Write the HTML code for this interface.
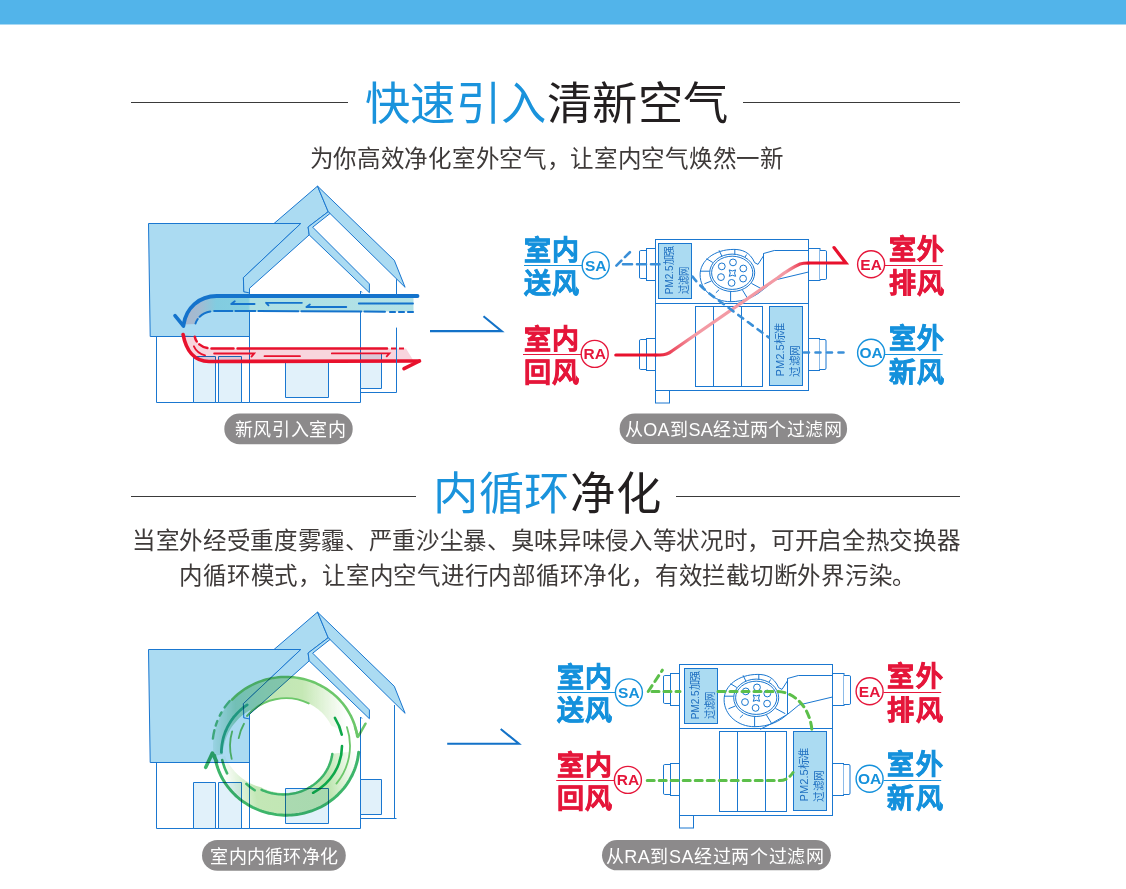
<!DOCTYPE html>
<html lang="zh-CN">
<head>
<meta charset="utf-8">
<style>
html,body{margin:0;padding:0;background:#fff;width:1126px;height:889px;overflow:hidden}
svg{display:block;font-family:"Liberation Sans",sans-serif}
</style>
</head>
<body>
<svg width="1126" height="889" viewBox="0 0 1126 889">
<defs>
<linearGradient id="gBlueDuct" x1="0" y1="0" x2="1" y2="0">
  <stop offset="0" stop-color="#a9b6cc"/>
  <stop offset="0.07" stop-color="#a2bcd2"/>
  <stop offset="0.14" stop-color="#82cce0"/>
  <stop offset="0.28" stop-color="#84cfe1"/>
  <stop offset="0.29" stop-color="#ade0e4"/>
  <stop offset="1" stop-color="#b3e2e6"/>
</linearGradient>
<linearGradient id="gUp" gradientUnits="userSpaceOnUse" x1="212" y1="0" x2="358" y2="0">
  <stop offset="0" stop-color="#a6dcc6" stop-opacity="0.25"/>
  <stop offset="0.16" stop-color="#aadfc0"/>
  <stop offset="0.4" stop-color="#bfe5b4"/>
  <stop offset="0.62" stop-color="#c5e8b5"/>
  <stop offset="0.92" stop-color="#c8e9b8" stop-opacity="0"/>
</linearGradient>
<linearGradient id="gLo" gradientUnits="userSpaceOnUse" x1="222" y1="770" x2="360" y2="752">
  <stop offset="0" stop-color="#c3e7b6" stop-opacity="0"/>
  <stop offset="0.22" stop-color="#c3e7b6"/>
  <stop offset="0.75" stop-color="#bfe6b2"/>
  <stop offset="0.97" stop-color="#c8e9b8" stop-opacity="0"/>
</linearGradient>
<linearGradient id="gRedLine" x1="0" y1="0" x2="1" y2="0">
  <stop offset="0" stop-color="#e8112d"/>
  <stop offset="0.25" stop-color="#f39aa4"/>
  <stop offset="0.85" stop-color="#f39aa4"/>
  <stop offset="1" stop-color="#e8112d"/>
</linearGradient>
</defs>
<!-- top bar -->
<rect x="0" y="0" width="1126" height="24.5" fill="#52b4ea"/>

<!-- ===== Heading 1 ===== -->
<line x1="131" y1="102.5" x2="348" y2="102.5" stroke="#3a3a3a" stroke-width="1.1"/>
<line x1="743" y1="102.5" x2="960" y2="102.5" stroke="#3a3a3a" stroke-width="1.1"/>
<text x="365" y="120.4" font-size="45.3" textLength="363" lengthAdjust="spacing" fill="#1a93dc">快速引入<tspan fill="#231f20">清新空气</tspan></text>
<text x="309.7" y="166.7" font-size="23.5" letter-spacing="0.7" fill="#3e3a39">为你高效净化室外空气，让室内空气焕然一新</text>

<!-- ===== Heading 2 ===== -->
<line x1="131" y1="496.5" x2="416" y2="496.5" stroke="#3a3a3a" stroke-width="1.1"/>
<line x1="676" y1="496.5" x2="960" y2="496.5" stroke="#3a3a3a" stroke-width="1.1"/>
<text x="433" y="510" font-size="45.3" textLength="227.6" lengthAdjust="spacing" fill="#1a93dc">内循环<tspan fill="#231f20">净化</tspan></text>
<text x="131.9" y="548.6" font-size="23.5" letter-spacing="0.67" fill="#3e3a39">当室外经受重度雾霾、严重沙尘暴、臭味异味侵入等状况时，可开启全热交换器</text>
<text x="179.4" y="584" font-size="23.5" letter-spacing="0.77" fill="#3e3a39">内循环模式，让室内空气进行内部循环净化，有效拦截切断外界污染。</text>

<!-- ===== Pills ===== -->
<rect x="224.3" y="413.6" width="128.4" height="30.7" rx="15.35" fill="#8c8a8b"/>
<text x="290.6" y="436" font-size="18" letter-spacing="0.6" text-anchor="middle" fill="#fff">新风引入室内</text>
<rect x="619.6" y="413.4" width="227.5" height="30.5" rx="15.25" fill="#8c8a8b"/>
<text x="733.4" y="436" font-size="18" letter-spacing="0.4" text-anchor="middle" fill="#fff">从OA到SA经过两个过滤网</text>
<rect x="202" y="840" width="143.8" height="30.8" rx="15.4" fill="#8c8a8b"/>
<text x="274.2" y="862.6" font-size="18" letter-spacing="0.25" text-anchor="middle" fill="#fff">室内内循环净化</text>
<rect x="602" y="840.1" width="228.9" height="30.2" rx="15.1" fill="#8c8a8b"/>
<text x="715" y="862.6" font-size="18" letter-spacing="0.6" text-anchor="middle" fill="#fff">从RA到SA经过两个过滤网</text>

<!-- HOUSES -->
<g id="house" stroke="#1a77d0" stroke-width="1" fill="none" stroke-linejoin="round">
  <!-- lower-left wall -->
  <rect x="156.5" y="336.5" width="93" height="66" fill="#fff"/>
  <rect x="193.5" y="356.5" width="22" height="46" fill="#e1f1fa"/>
  <rect x="218.5" y="356.5" width="23" height="46" fill="#e1f1fa"/>
  <!-- big side panel -->
  <path d="M148.5,223.5 L300.8,223.5 L243.4,277.6 L243.8,291.7 L249.5,291.7 L249.5,336.5 L150.2,336.5 Z" fill="#abdbf2"/>
  <!-- left roof slab -->
  <path d="M317.5,186.1 L274,223.5 L300.8,223.5 L243.4,277.6 L243.8,291.7 L249.5,293 L249.5,288.3 L309.2,234.9 L308.1,227 L328.2,211.7 Z" fill="#abdbf2"/>
  <!-- right roof slab -->
  <path d="M317.5,186.1 L394.3,260.3 L405.1,287.3 L328.2,211.7 Z" fill="#abdbf2"/>
  <!-- inner slab (gable right edge) -->
  <path d="M308.1,227 L328.2,211.7 L330,213.5 L312.7,227.2 L369.4,283.9 L369.4,292.7 L309.2,234.9 Z" fill="#abdbf2"/>
  <!-- front house walls -->
  <path d="M249.5,293 V402.5 H360.5 V291"/>
  <path d="M360.5,291 l1.5,1.5"/>
  <path d="M396.5,392.5 H360.5"/>
  <rect x="360.5" y="353.5" width="21" height="35" fill="#e1f1fa"/>
  <rect x="285.5" y="362.5" width="43" height="35" fill="#e1f1fa"/>
</g>

<!-- house 1 flows -->
<g id="flow1">
  <!-- blue duct fill -->
  <path d="M413.5,297.5 L216.8,297.5 C200,297.5 186,308 184,324.5 L195.5,324 C198,316 205,311.5 216,311.5 L413.5,311.5 Z" fill="url(#gBlueDuct)"/>
  <!-- blue outer thick -->
  <path d="M417.5,296 L216.8,296 C199,296 186,308 183.5,325" stroke="#1473cc" stroke-width="3.8" fill="none" stroke-linecap="round"/>
  <path d="M175,315.7 L183.5,326" stroke="#1473cc" stroke-width="3.6" fill="none" stroke-linecap="round"/>
  <!-- blue inner dashed -->
  <path d="M195.5,323.5 C198,316 205,311 217,310.9 L385,311.7" stroke="#1473cc" stroke-width="2" fill="none" stroke-dasharray="5 3 12 4 18 3 20 3 40 3 60 3 100 3" stroke-linecap="round"/>
  <path d="M390,312 L413,312" stroke="#1473cc" stroke-width="2.2" fill="none" stroke-dasharray="5 4" stroke-linecap="round"/>
  <!-- inner arrows -->
  <g stroke="#1473cc" stroke-width="1.8" fill="none" stroke-linecap="round">
    <path d="M231.2,304 H254.6 M231.2,304 l3.6,-2.7"/>
    <path d="M266,302.8 H301.9 M266,302.8 l2.5,2.5"/>
    <path d="M306.4,307 H346.3 M306.4,307 l3.5,-2.5"/>
    <path d="M358.8,303.5 H413"/>
  </g>
  <!-- red fill -->
  <path d="M183.1,334.6 C186,350 194,361.5 209,361.5 L414,361.5 L406,348.5 L212,348.5 C203,348.5 196,342 194.8,336.5 Z" fill="#f8d5dd" style="mix-blend-mode:multiply"/>
  <!-- red outer -->
  <path d="M183.1,334.6 C186,350 194,361.5 209,361.5 L419,361" stroke="#e8112d" stroke-width="3.6" fill="none" stroke-linecap="round"/>
  <path d="M419.5,361 L404,368.6" stroke="#e8112d" stroke-width="3.6" fill="none" stroke-linecap="round"/>
  <!-- red inner dashed -->
  <path d="M194.8,336.8 C196,343 202,348.5 212,348.5 L387,348.5" stroke="#e8112d" stroke-width="2.5" fill="none" stroke-dasharray="5 4 9 4 22 4 300" stroke-linecap="round"/>
  <path d="M391,348.5 L406,348.5" stroke="#e8112d" stroke-width="2" fill="none" stroke-dasharray="5 3"/>
  <g stroke="#e8112d" stroke-width="1.8" fill="none" stroke-linecap="round">
    <path d="M193.9,346.3 C196,351 200,354 205.1,355.3"/>
    <path d="M214.1,353.5 H254.2 l-2.7,3.1"/>
    <path d="M264.5,356.2 H300"/>
    <path d="M331.8,353.4 H389.4 l-2.7,3"/>
  </g>
</g>
<!-- arrows between house and machine -->
<path id="arr" d="M430,331.1 H501.7 L483.5,316.3" stroke="#1372c8" stroke-width="2.1" fill="none"/>
<use href="#arr" transform="translate(17.2,412.7)"/>
<g stroke="#1a77d0" stroke-width="1" fill="none">
  <path d="M396.5,279.2 V296 M396.5,327.6 V392.5"/>
</g>
<use href="#house" transform="translate(0,426)"/>
<g stroke="#1a77d0" stroke-width="1" fill="none">
  <path d="M394.5,705 V818.5"/>
</g>
<!-- green ring -->
<g fill="none" stroke-linecap="round" style="mix-blend-mode:multiply" transform="translate(286,746) scale(1,0.955) translate(-286,-746)">
<path d="M213.7,756.2 L213.4,753.6 L213.2,751.1 L213.1,748.5 L213.0,746.0 L213.1,743.5 L213.2,740.9 L213.5,738.4 L213.8,735.9 L214.2,733.3 L214.7,730.8 L215.3,728.4 L216.0,725.9 L216.7,723.5 L217.5,721.1 L218.5,718.7 L219.5,716.4 L220.6,714.1 L221.7,711.8 L223.0,709.6 L224.3,707.4 L225.7,705.3 L227.1,703.2 L228.7,701.2 L230.3,699.2 L232.0,697.3 L233.7,695.5 L235.5,693.7 L237.4,692.0 L239.3,690.3 L241.3,688.7 L243.3,687.2 L245.4,685.8 L247.5,684.4 L249.7,683.1 L251.9,681.9 L254.2,680.7 L256.5,679.7 L258.8,678.7 L261.2,677.8 L263.6,677.0 L266.0,676.3 L268.5,675.6 L270.9,675.1 L273.4,674.6 L275.9,674.2 L278.4,673.9 L280.9,673.7 L283.5,673.6 L286.0,673.5 L288.5,673.6 L291.1,673.7 L293.6,674.0 L296.1,674.3 L298.6,674.7 L301.1,675.2 L303.5,675.8 L305.9,676.4 L308.4,677.2 L310.7,678.0 L313.1,678.9 L315.4,679.9 L317.7,681.0 L319.9,682.2 L322.1,683.4 L324.3,684.7 L326.4,686.1 L328.5,687.5 L330.5,689.1 L332.4,690.7 L334.3,692.3 L336.2,694.1 L337.9,695.8 L339.6,697.7 L341.3,699.6 L342.9,701.6 L344.4,703.6 L345.8,705.7 L347.2,707.8 L348.5,709.9 L349.7,712.1 L350.8,714.4 L351.9,716.7 L352.8,719.0 L353.7,721.4 L354.5,723.7 L355.3,726.1 L355.9,728.6 L356.4,731.0 L356.9,733.5 L357.3,736.0 L331.3,724.9 L330.5,723.3 L329.7,721.7 L328.8,720.2 L327.9,718.7 L326.9,717.3 L325.9,715.8 L324.8,714.4 L323.6,713.1 L322.5,711.8 L321.2,710.5 L320.0,709.3 L318.7,708.1 L317.3,707.0 L315.9,705.9 L314.5,704.9 L313.0,703.9 L311.5,703.0 L310.0,702.1 L308.4,701.3 L306.8,700.5 L305.2,699.8 L303.6,699.2 L301.9,698.6 L300.2,698.1 L298.5,697.6 L296.8,697.2 L295.1,696.8 L293.4,696.5 L291.6,696.3 L289.9,696.1 L288.1,696.0 L286.3,696.0 L284.6,696.0 L282.8,696.1 L281.1,696.2 L279.3,696.4 L277.6,696.7 L275.8,697.0 L274.1,697.4 L272.4,697.9 L270.7,698.4 L269.1,699.0 L267.4,699.6 L265.8,700.3 L264.2,701.0 L262.6,701.8 L261.1,702.6 L259.6,703.6 L258.1,704.5 L256.7,705.5 L255.2,706.6 L253.9,707.7 L252.5,708.8 L249.9,708.6 L248.3,709.6 L246.7,710.6 L245.1,711.7 L243.6,712.9 L242.1,714.1 L240.7,715.4 L239.3,716.8 L237.9,718.2 L236.6,719.7 L235.3,721.3 L234.0,722.9 L232.8,724.5 L231.7,726.2 L230.6,728.0 L229.6,729.8 L228.6,731.7 L227.7,733.6 L226.9,735.6 L226.1,737.6 L225.4,739.6 L224.8,741.7 L224.3,743.8 L223.8,746.0 L223.4,748.2 L223.0,750.4 L222.8,752.6 L222.6,754.9 Z" fill="url(#gUp)" stroke="none"/>
<path d="M358.8,751.1 L358.6,753.6 L358.3,756.2 L357.9,758.7 L357.4,761.2 L356.8,763.6 L356.1,766.1 L355.3,768.5 L354.5,770.9 L353.6,773.3 L352.6,775.6 L351.5,777.9 L350.3,780.2 L349.1,782.4 L347.8,784.6 L346.4,786.7 L344.9,788.8 L343.4,790.8 L341.8,792.8 L340.1,794.7 L338.3,796.5 L336.5,798.3 L334.7,800.1 L332.7,801.7 L330.8,803.3 L328.7,804.8 L326.6,806.3 L324.5,807.6 L322.3,808.9 L320.1,810.2 L317.8,811.3 L315.5,812.4 L313.2,813.3 L310.8,814.2 L308.4,815.0 L306.0,815.8 L303.6,816.4 L301.1,817.0 L298.6,817.4 L296.1,817.8 L293.6,818.1 L291.1,818.3 L288.5,818.5 L286.0,818.5 L283.5,818.4 L280.9,818.3 L278.4,818.1 L275.9,817.7 L273.4,817.3 L270.9,816.8 L268.5,816.3 L266.0,815.6 L263.6,814.8 L261.2,814.0 L258.9,813.1 L256.6,812.1 L254.3,811.0 L252.0,809.9 L249.8,808.6 L247.7,807.3 L245.6,805.9 L243.5,804.5 L241.5,802.9 L239.6,801.3 L237.7,799.7 L235.8,798.0 L234.1,796.2 L232.3,794.3 L230.7,792.4 L229.1,790.4 L227.6,788.4 L226.2,786.3 L224.8,784.2 L223.5,782.1 L222.3,779.9 L221.2,777.6 L220.1,775.3 L219.2,773.0 L218.3,770.6 L217.5,768.3 L216.7,765.9 L216.1,763.4 L215.6,761.0 L215.1,758.5 L214.7,756.0 L224.9,756.8 L225.8,758.8 L226.8,760.8 L227.8,762.7 L228.9,764.6 L230.0,766.4 L231.2,768.1 L232.4,769.9 L233.7,771.5 L235.1,773.1 L236.5,774.6 L237.9,776.1 L239.4,777.4 L240.9,778.8 L242.4,780.0 L244.0,781.2 L245.6,782.3 L247.3,783.4 L248.9,784.4 L250.6,785.3 L252.3,786.1 L254.0,786.9 L255.8,787.6 L257.5,788.2 L259.2,788.8 L261.0,789.3 L262.5,790.1 L264.1,790.9 L265.7,791.6 L267.3,792.2 L269.0,792.8 L270.6,793.3 L272.3,793.7 L274.0,794.1 L275.7,794.5 L277.4,794.7 L279.1,795.0 L280.8,795.1 L282.6,795.2 L284.3,795.2 L286.0,795.2 L287.7,795.1 L289.4,795.0 L291.1,794.8 L292.8,794.5 L294.5,794.2 L296.2,793.8 L297.8,793.4 L299.4,792.9 L301.1,792.3 L302.6,791.7 L304.2,791.1 L305.7,790.4 L307.3,789.6 L308.7,788.8 L310.2,787.9 L311.6,787.0 L313.0,786.0 L314.3,785.0 L315.7,784.0 L316.9,782.9 L318.2,781.7 L319.3,780.5 L320.5,779.3 L321.6,778.0 L322.6,776.7 L323.6,775.4 L324.6,774.1 L325.5,772.7 L326.4,771.2 L327.2,769.8 L327.9,768.3 L328.6,766.8 L329.3,765.3 L329.9,763.7 L330.4,762.2 L330.9,760.6 L331.3,759.0 L331.7,757.4 L332.0,755.8 L332.3,754.2 Z" fill="url(#gLo)" stroke="none"/>
<path d="M232.1,697.5 L233.9,695.6 L235.6,693.9 L237.5,692.1 L239.4,690.5 L241.4,688.9 L243.4,687.4 L245.5,685.9 L247.6,684.6 L249.8,683.3 L252.0,682.1 L254.3,680.9 L256.5,679.9 L258.9,678.9 L261.2,678.0 L263.6,677.2 L266.1,676.4 L268.5,675.8 L271.0,675.2 L273.4,674.7 L275.9,674.4 L278.4,674.1 L281.0,673.8 L283.5,673.7 L286.0,673.7 L288.5,673.7 L291.0,673.9 L293.6,674.1 L296.1,674.4 L298.6,674.8 L301.0,675.3 L303.5,675.9 L305.9,676.5 L308.3,677.3 L310.7,678.1 L313.1,679.0 L315.4,680.0 L317.7,681.1 L319.9,682.2 L322.1,683.5 L324.3,684.8 L326.4,686.2 L328.4,687.6 L330.4,689.1 L332.4,690.7 L334.3,692.4 L336.1,694.1 L337.9,695.9 L339.6,697.7 L341.2,699.6 L342.8,701.6 L344.3,703.6 L345.8,705.7 L347.1,707.8 L348.4,710.0 L349.6,712.2 L350.8,714.4 L351.8,716.7 L352.8,719.0 L353.7,721.4 L354.5,723.7 L355.2,726.1 L355.9,728.6 L356.4,731.0 L356.9,733.5 L357.3,736.0" stroke="#6cc76a" stroke-width="2.6"/>
<path d="M212.9,738.3 A73.5,73.5 0 0,1 229.7,698.8" stroke="#5cc283" stroke-width="2.4" stroke-dasharray="9 5 5 6 4 6"/>
<path d="M358.7,752.4 L358.4,754.9 L358.1,757.4 L357.6,760.0 L357.1,762.5 L356.4,765.0 L355.7,767.4 L354.9,769.8 L354.0,772.2 L353.0,774.6 L352.0,776.9 L350.8,779.2 L349.6,781.5 L348.3,783.7 L347.0,785.8 L345.5,788.0 L344.0,790.0 L342.4,792.0 L340.7,794.0 L339.0,795.8 L337.2,797.7 L335.4,799.4 L333.5,801.1 L331.5,802.7 L329.5,804.3 L327.4,805.8 L325.3,807.2 L323.1,808.5 L320.9,809.8 L318.6,810.9 L316.3,812.0 L313.9,813.0 L311.6,814.0 L309.2,814.8 L306.7,815.6 L304.3,816.2 L301.8,816.8 L299.3,817.3 L296.8,817.7 L294.2,818.1 L291.7,818.3 L289.2,818.4 L286.6,818.5 L284.1,818.5 L281.5,818.3 L279.0,818.1 L276.5,817.8 L274.0,817.4 L271.5,816.9 L269.0,816.4 L266.5,815.7 L264.1,815.0 L261.7,814.2 L259.3,813.3 L257.0,812.3 L254.7,811.2 L252.4,810.1 L250.2,808.8 L248.0,807.5 L245.9,806.1 L243.8,804.7 L241.8,803.2 L239.8,801.6 L237.9,799.9 L236.0,798.2 L234.2,796.4 L232.5,794.5 L230.9,792.6 L229.3,790.6 L227.7,788.6 L226.3,786.5 L224.9,784.4 L223.6,782.2 L222.4,780.0 L221.2,777.7 L220.2,775.4 L219.2,773.1 L218.3,770.7 L217.5,768.3 L216.8,765.9 L216.1,763.5 L215.6,761.0 L215.1,758.5 L214.7,756.0" stroke="#3db56a" stroke-width="3"/>
<path d="M247.1,714.5 A50.0,50.0 0 0,1 308.7,701.4" stroke="#6cc76a" stroke-width="2"/>
<path d="M332.3,754.2 L332.1,755.8 L331.8,757.4 L331.4,759.0 L331.1,760.6 L330.6,762.2 L330.1,763.8 L329.5,765.4 L328.9,766.9 L328.2,768.5 L327.5,770.0 L326.7,771.4 L325.9,772.9 L325.0,774.3 L324.1,775.7 L323.1,777.1 L322.0,778.4 L320.9,779.7 L319.8,781.0 L318.6,782.2 L317.4,783.4 L316.1,784.6 L314.8,785.7 L313.5,786.7 L312.1,787.7 L310.7,788.7 L309.2,789.6 L307.7,790.5 L306.2,791.3 L304.6,792.1 L303.0,792.8 L301.4,793.4 L299.8,794.0 L298.1,794.6 L296.4,795.1 L294.7,795.5 L293.0,795.8 L291.3,796.1 L289.5,796.4 L287.8,796.6 L286.0,796.7 L284.2,796.8 L282.5,796.8 L280.7,796.7 L278.9,796.6 L277.1,796.4 L275.3,796.1 L273.6,795.8 L271.8,795.5 L270.1,795.0 L268.3,794.5 L266.6,794.0 L264.9,793.3 L263.2,792.7 L261.6,791.9" stroke="#3db56a" stroke-width="2.5"/>
<path d="M221.4,752.8 L221.4,750.5 L221.6,748.3 L221.8,746.0 L222.1,743.8 L222.5,741.6 L222.9,739.4 L223.4,737.2 L224.0,735.1 L224.7,733.0 L225.4,730.9 L226.3,728.9 L227.1,726.9 L228.1,724.9 L229.1,723.0 L230.2,721.1 L231.3,719.3 L232.5,717.6 L233.7,715.8 L235.1,714.2 L236.4,712.6 L237.8,711.0 L239.3,709.5 L240.8,708.1 L242.3,706.7 L243.9,705.3 L245.5,704.1 L247.2,702.9" stroke="#2fb088" stroke-width="2.8"/>
<path d="M231.7,759.5 A56.0,56.0 0 0,1 232.2,730.6" stroke="#6cc76a" stroke-width="1.8"/>
<path d="M238.7,737.7 A48.0,48.0 0 0,1 244.0,722.7" stroke="#6cc76a" stroke-width="1.8"/>
<path d="M227.1,774.7 A65.5,65.5 0 0,1 222.2,760.7" stroke="#3db56a" stroke-width="2.6"/>
<path d="M254.7,792.4 A56.0,56.0 0 0,1 246.4,785.6" stroke="#3db56a" stroke-width="2.6"/>
<path d="M342.0,746.0 A56.0,56.0 0 0,1 313.1,795.0" stroke="#0ea84a" stroke-width="2.6"/>
<path d="M334.9,716.6 A57.0,57.0 0 0,1 341.8,734.1" stroke="#0ea84a" stroke-width="2.6"/>
<path d="M346.9,726.2 A64.0,64.0 0 0,1 336.4,785.4" stroke="#6cc76a" stroke-width="1.8"/>
<path d="M355,726 L358,736.5 L365.5,722.6" stroke="#6cc76a" stroke-width="2.5" stroke-linejoin="round"/>
<path d="M205.7,768.4 L212.4,753.3 L216.5,762" stroke="#3db56a" stroke-width="3.6" stroke-linejoin="round"/>
</g>
<!-- MACHINES -->
<g id="machine" stroke="#1a77d0" stroke-width="1" fill="none">
  <!-- ports -->
  <path d="M646.5,250.5 H640.5 Q639.5,250.5 639.5,252 V277 Q639.5,278.5 640.5,278.5 H646.5" fill="#fff"/>
  <rect x="646.5" y="248.5" width="9" height="32" fill="#fff"/>
  <path d="M646.5,339.5 H640.5 Q639.5,339.5 639.5,341 V368 Q639.5,369.5 640.5,369.5 H646.5" fill="#fff"/>
  <rect x="646.5" y="338.5" width="9" height="32" fill="#fff"/>
  <rect x="808.5" y="248.5" width="11.5" height="32" fill="#fff"/>
  <path d="M820,250.5 H825.5 Q826.5,250.5 826.5,252 V278 Q826.5,279.5 825.5,279.5 H820" fill="#fff"/>
  <rect x="808.5" y="338.5" width="11" height="32" fill="#fff"/>
  <path d="M819.5,339.5 H825 Q826,339.5 826,341 V368 Q826,369.5 825,369.5 H819.5" fill="#fff"/>
  <!-- base -->
  <rect x="655.5" y="390.5" width="14" height="12.5" fill="#fff"/>
  <!-- main box -->
  <rect x="655.5" y="239.5" width="153" height="151" fill="#fff"/>
  <line x1="655.5" y1="303.5" x2="808.5" y2="303.5"/>
  <!-- lower rects -->
  <rect x="695.5" y="306.5" width="67" height="80"/>
  <line x1="713.5" y1="306.5" x2="713.5" y2="386.5"/>
  <line x1="741.5" y1="306.5" x2="741.5" y2="386.5"/>
  <!-- filter 2 -->
  <rect x="769.5" y="306.5" width="33" height="79" fill="#abdbf2"/>
  <!-- fan volute -->
  <path d="M754.7,262.7 C750,252 742,249.4 733.9,249.4 C714,249.4 700.1,261 700.1,274.7 C700.1,290 714,301.7 730.5,301.7 C745,301.7 756,296 762.6,289.9"/>
  <ellipse cx="732.2" cy="272.8" rx="22.5" ry="18.7"/>
  <ellipse cx="732.2" cy="272.8" rx="20.6" ry="16.6"/>
  <path d="M719.1,250.3 L721.9,256.2 M734.8,249.6 L734.8,254.5 M746.6,254.5 L744.9,257.3 M706.5,258.7 L712.8,262.5 M700.2,271.2 L709.7,271.2 M704.4,283.8 L711.4,281 M715.9,292.8 L719.1,289.7 M730.6,301.9 L730.6,291.5 M748,299.1 L742.5,290.1 M761.3,288.7 L751.5,283.4"/>
  <g stroke-width="1">
    <circle cx="733" cy="262.4" r="3.4"/>
    <circle cx="721.8" cy="266.4" r="3.4"/>
    <circle cx="743.3" cy="268.5" r="3.4"/>
    <circle cx="721" cy="277.1" r="3.4"/>
    <circle cx="743.1" cy="278.6" r="3.4"/>
    <circle cx="731.6" cy="282.9" r="3.4"/>
    <path d="M729.2,269.9 Q732.4,272 735.6,269.9 Q733.5,273.1 735.6,276.3 Q732.4,274.2 729.2,276.3 Q731.3,273.1 729.2,269.9 Z"/>
  </g>
  <!-- outlet duct -->
  <path d="M754.7,262.7 L758,264.4 L763.5,255.8 L763.5,253.5 L774.3,250.5 L808.5,250.5"/>
  <path d="M763.5,253.5 V289.3"/>
  <path d="M808.5,272 L774.9,280 L763.6,289.3 L745.4,299.7 L736.2,304.3"/>
</g>
<g id="f1">
  <rect x="658.5" y="243.5" width="33" height="55" fill="#abdbf2" stroke="#1a77d0" stroke-width="1"/>
  <g fill="#1f6fc0" font-size="11.5">
  <text transform="translate(672.6,294.2) rotate(-90)" textLength="48" lengthAdjust="spacingAndGlyphs">PM2.5加强</text>
  <text transform="translate(687.5,294.2) rotate(-90)" textLength="27" lengthAdjust="spacingAndGlyphs">过滤网</text>
  </g>
</g>
<g id="ftext" fill="#1f6fc0" font-size="11.5">
  <text transform="translate(783.5,376.5) rotate(-90)" textLength="53.5" lengthAdjust="spacingAndGlyphs">PM2.5标准</text>
  <text transform="translate(798.8,376.5) rotate(-90)" textLength="30.5" lengthAdjust="spacingAndGlyphs">过滤网</text>
</g>
<!-- machine 1 flows -->
<g id="mflow1" fill="none" stroke-linecap="round">
  <path d="M615.8,355 H655.5" stroke="#e8112d" stroke-width="3.2"/>
  <path d="M655.5,355 H660 Q667,355 672,351 L777.8,277.7 Q790,268.5 800,264 Q803,263 808.5,263" stroke="url(#gRedLine)" stroke-width="3.2"/>
  <path d="M808.5,263 H845.9 L834,247.6" stroke="#e8112d" stroke-width="3.2"/>
  <g stroke="#3a8fd8" stroke-width="2.6">
    <path d="M616.4,265.6 L632.4,249.7" stroke-dasharray="7 5"/>
    <path d="M623,264.3 H659.5" stroke-dasharray="9 5"/>
    <path d="M692.5,276.5 Q700,287 716,298.5 L768.7,337.4" stroke-dasharray="6 6"/>
    <path d="M804,352.5 H848.8" stroke-dasharray="5 6.5"/>
  </g>
</g>
<use href="#machine" transform="translate(24,425)"/>
<use href="#ftext" transform="translate(24,425)"/>
<use href="#f1" transform="translate(26,425)"/>
<!-- machine 2 flows (green) -->
<g fill="none" stroke="#5cbf4a" stroke-width="3" stroke-dasharray="7 5" stroke-linecap="round">
  <path d="M648.2,691.5 L662.4,670.2"/>
  <path d="M652,691.5 H680"/>
  <path d="M718,691.5 H778 C790,692 800,700 806,710 C810,718 811.9,725 811.9,732"/>
  <path d="M647.2,780.6 H780 C786,780.6 790,777 793,772.5"/>
</g>
<!-- LABELS -->
<g id="lSA" font-size="27" font-weight="bold" letter-spacing="1.5">
  <text x="523.5" y="259.6" fill="#1591dc" stroke="#1591dc" stroke-width="0.7">室内</text>
  <text x="523.5" y="293" fill="#1591dc" stroke="#1591dc" stroke-width="0.7">送风</text>
  <line x1="524" y1="265.5" x2="582" y2="265.5" stroke="#1591dc" stroke-width="1.1"/>
  <circle cx="595.7" cy="265.4" r="13.5" fill="#fff" stroke="#1591dc" stroke-width="1.4"/>
  <text x="595.7" y="270.7" font-size="15.5" letter-spacing="0" text-anchor="middle" fill="#1591dc">SA</text>
</g>
<g id="lRA" font-size="27" font-weight="bold" letter-spacing="1.5">
  <text x="523.5" y="349.2" fill="#e5163a" stroke="#e5163a" stroke-width="0.7">室内</text>
  <text x="523.5" y="381.6" fill="#e5163a" stroke="#e5163a" stroke-width="0.7">回风</text>
  <line x1="523" y1="354.5" x2="581" y2="354.5" stroke="#e5163a" stroke-width="1.1"/>
  <circle cx="594.7" cy="353.9" r="13.5" fill="#fff" stroke="#e5163a" stroke-width="1.4"/>
  <text x="594.7" y="359.2" font-size="15.5" letter-spacing="0" text-anchor="middle" fill="#e5163a">RA</text>
</g>
<g id="lEA" font-size="27" font-weight="bold" letter-spacing="1.5">
  <text x="888.6" y="259.4" fill="#e5163a" stroke="#e5163a" stroke-width="0.7">室外</text>
  <text x="888.6" y="292.9" fill="#e5163a" stroke="#e5163a" stroke-width="0.7">排风</text>
  <line x1="885" y1="265.5" x2="942.7" y2="265.5" stroke="#e5163a" stroke-width="1.1"/>
  <circle cx="871.1" cy="264.2" r="13.5" fill="#fff" stroke="#e5163a" stroke-width="1.4"/>
  <text x="871.1" y="269.5" font-size="15.5" letter-spacing="0" text-anchor="middle" fill="#e5163a">EA</text>
</g>
<g id="lOA" font-size="27" font-weight="bold" letter-spacing="1.5">
  <text x="888.6" y="348.3" fill="#1591dc" stroke="#1591dc" stroke-width="0.7">室外</text>
  <text x="888.6" y="381.8" fill="#1591dc" stroke="#1591dc" stroke-width="0.7">新风</text>
  <line x1="885" y1="354.5" x2="942.7" y2="354.5" stroke="#1591dc" stroke-width="1.1"/>
  <circle cx="871.1" cy="352.7" r="13.5" fill="#fff" stroke="#1591dc" stroke-width="1.4"/>
  <text x="871.1" y="358.0" font-size="15.5" letter-spacing="0" text-anchor="middle" fill="#1591dc">OA</text>
</g>
<use href="#lSA" transform="translate(33.2,427)"/>
<use href="#lRA" transform="translate(33.2,426)"/>
<use href="#lEA" transform="translate(-1.5,427)"/>
<use href="#lOA" transform="translate(-1.5,426)"/>
</svg>
</body>
</html>
